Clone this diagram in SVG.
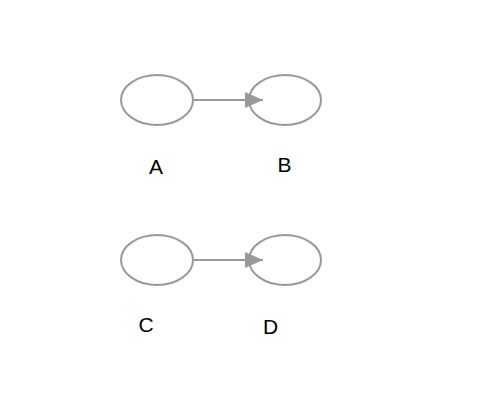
<svg xmlns="http://www.w3.org/2000/svg" width="490" height="412" viewBox="0 0 490 412">
<style>
.n{fill:#fff;stroke:#999;stroke-width:2}
.l{font-family:"Liberation Sans",Arial,sans-serif;font-size:21px;fill:#000;text-anchor:middle}
.e{stroke:#999;stroke-width:2;fill:none}
</style>
<defs>
<marker id="arr" markerWidth="18" markerHeight="16" refX="18" refY="8" markerUnits="userSpaceOnUse" orient="auto">
<path d="M0,0 L18,8 L0,16 Z" fill="#999"/>
</marker>
</defs>
<rect width="490" height="412" fill="#fff"/>
<g id="A"><ellipse class="n" cx="157" cy="100" rx="36" ry="25"/><text class="l" x="156" y="173.5">A</text></g>
<g id="B"><ellipse class="n" cx="285" cy="100" rx="36" ry="25"/><text class="l" x="284.5" y="172">B</text></g>
<g id="C"><ellipse class="n" cx="157" cy="260" rx="36" ry="25"/><text class="l" x="146" y="332">C</text></g>
<g id="D"><ellipse class="n" cx="285" cy="260" rx="36" ry="25"/><text class="l" x="270.5" y="333.5">D</text></g>
<g id="connectors">
<line class="e" x1="193" y1="100" x2="263" y2="100" marker-end="url(#arr)"/>
<line class="e" x1="193" y1="260" x2="263" y2="260" marker-end="url(#arr)"/>
</g>
</svg>
